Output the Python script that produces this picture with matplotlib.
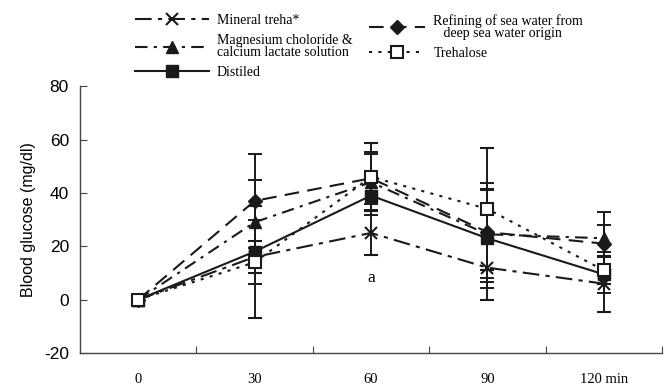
import matplotlib
matplotlib.use("Agg")
import matplotlib.pyplot as plt
import numpy as np

plt.rcParams["axes.unicode_minus"] = False

# Time points (min) and their labels
times = [0, 30, 60, 90, 120]
time_labels = ["0", "30", "60", "90", "120 min"]

# Mean blood glucose change (mg/dl) and error for each drink
mineral_treha = [0, 16, 25, 12, 6]
mineral_treha_err = [0, 6, 8.3, 12, 10.5]

magnesium = [0, 29, 44, 24.5, 23]
magnesium_err = [0, 16, 10.5, 16.5, 5]

distilled = [0, 18, 39, 23, 9.5]
distilled_err = [0, 12, 7.3, 18.5, 7]

refining = [0, 37, 45.5, 25.3, 21]
refining_err = [0, 17.5, 9.8, 18.5, 12]

trehalose = [0, 14, 46, 34, 11]
trehalose_err = [0, 21, 12.7, 23, 5]

serif = ["Liberation Serif", "DejaVu Serif"]
sans = ["Liberation Sans", "DejaVu Sans"]

fig = plt.figure(figsize=(6.64, 3.88), dpi=100)
ax = fig.add_axes([0.1205, 0.090, 0.8765, 0.688])

x = np.arange(len(times))
ink = "#1a1a1a"
common = dict(color=ink, ecolor=ink, elinewidth=1.4, capsize=4.8, capthick=1.4, lw=1.5)

h_min = ax.errorbar(x, mineral_treha, yerr=mineral_treha_err, marker="x", ms=8, mew=1.5,
                    ls=(0, (8, 3, 2, 3)), **common)
h_mag = ax.errorbar(x, magnesium, yerr=magnesium_err, marker="^", ms=8.5,
                    ls=(0, (6, 3, 1.5, 3)), **common)
h_dis = ax.errorbar(x, distilled, yerr=distilled_err, marker="s", ms=9,
                    ls="-", **common)
h_ref = ax.errorbar(x, refining, yerr=refining_err, marker="D", ms=7,
                    ls=(0, (7, 4)), **common)
h_tre = ax.errorbar(x, trehalose, yerr=trehalose_err, marker="s", ms=8, mfc="white", mew=1.5,
                    ls=(0, (1.5, 3)), **common)

ax.set_xlim(-0.5, 4.5)
ax.set_ylim(-20, 80)

for s in ["top", "right"]:
    ax.spines[s].set_visible(False)
for s in ["left", "bottom"]:
    ax.spines[s].set_color("#444444")
    ax.spines[s].set_linewidth(1.0)

ax.set_yticks([-20, 0, 20, 40, 60, 80])
ax.tick_params(axis="y", direction="in", length=5, color="#444444", labelsize=12.5, pad=8)
for t in ax.get_yticklabels():
    t.set_fontfamily(sans)

# Category boundaries get tick marks; category labels sit between them
ax.set_xticks(x + 0.5)
ax.set_xticklabels([])
ax.tick_params(axis="x", direction="in", length=5, color="#444444")
ax.set_xticks(x, minor=True)
ax.set_xticklabels(time_labels, minor=True, fontfamily=serif, fontsize=10.5)
ax.tick_params(axis="x", which="minor", length=0, pad=14)

ax.set_ylabel("Blood glucose (mg/dl)", fontfamily=sans, fontsize=11.5, labelpad=6)

ax.text(2, 8, "a", ha="center", va="center", fontfamily=serif, fontsize=12.5)

# Legend entries use only the data line of each errorbar container
leg_font = {"family": serif, "size": 10}
leg1 = fig.legend(handles=[h_min[0], h_mag[0], h_dis[0]],
                  labels=["Mineral treha*",
                          "Magnesium choloride &\ncalcium lactate solution",
                          "Distiled"],
                  loc="upper left", bbox_to_anchor=(0.195, 0.978), frameon=False,
                  prop=leg_font, handlelength=5.3, labelspacing=0.5,
                  handletextpad=0.6, borderaxespad=0)
leg2 = fig.legend(handles=[h_ref[0], h_tre[0]],
                  labels=["Refining of sea water from\n   deep sea water origin",
                          "Trehalose"],
                  loc="upper left", bbox_to_anchor=(0.548, 0.978), frameon=False,
                  prop=leg_font, handlelength=4.0, labelspacing=0.5,
                  handletextpad=0.6, borderaxespad=0)
for leg in (leg1, leg2):
    for t in leg.get_texts():
        t.set_linespacing(0.9)

fig.savefig("out.png", dpi=100)
